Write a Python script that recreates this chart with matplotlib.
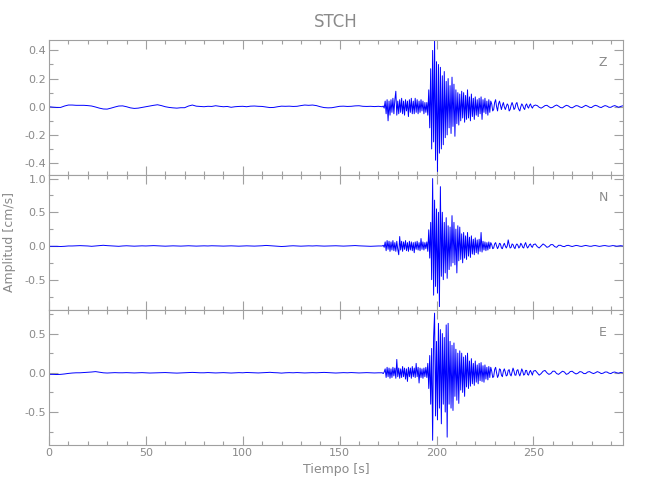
import numpy as np
import matplotlib
matplotlib.use('Agg')
import matplotlib.pyplot as plt
from matplotlib.ticker import MultipleLocator, FormatStrFormatter

# --- sampling grid (s) ---
t_pre = np.arange(0, 172, 2.0)      # quiet part
t_main = np.arange(172, 250, 0.5)   # arrival + coda
t_tail = np.arange(250, 297, 1.0)   # late coda

# --- Z component (cm/s) ---
z_pre = [0.0, -0.003, -0.005, -0.005, 0.005, 0.012, 0.012, 0.010, 0.010, 0.010,
         0.008, 0.005, -0.002, -0.010, -0.016, -0.017, -0.010, -0.002, 0.005, 0.006,
         0.0, -0.008, -0.012, -0.010, -0.005, 0.0, 0.005, 0.010, 0.014, 0.008,
         0.0, -0.005, -0.008, -0.010, -0.007, -0.007, 0.005, 0.012, 0.004, 0.002,
         0.0, 0.003, 0.002, 0.007, 0.003, 0.0, 0.002, -0.004, 0.0, 0.002,
         0.003, 0.0, 0.004, 0.005, 0.003, 0.002, -0.002, -0.006, -0.005, 0.0,
         0.004, 0.003, 0.004, 0.002, 0.003, 0.008, 0.012, 0.010, 0.012, 0.008,
         0.0, -0.006, -0.008, -0.007, -0.002, 0.003, 0.004, 0.002, 0.003, 0.006,
         0.007, 0.003, 0.002, 0.003, 0.001, 0.003]
z_main = [0.0, 0.005, -0.01, 0.04, -0.05, 0.05, -0.10, 0.04, -0.06, 0.05,
          -0.04, 0.06, -0.05, 0.05, 0.11, -0.06, 0.04, -0.05, 0.05, -0.04,
          0.06, -0.05, 0.04, -0.06, 0.05, -0.03, 0.04, -0.07, 0.05, -0.04,
          0.06, -0.05, 0.04, -0.05, 0.06, -0.04, 0.05, -0.05, 0.04, -0.04,
          0.05, -0.03, 0.04, -0.05, 0.03, -0.04, 0.03, -0.06, 0.12, -0.15,
          0.27, -0.30, 0.40, -0.25, 0.47, -0.38, 0.32, -0.46, 0.30, -0.33,
          0.28, -0.30, 0.22, -0.27, 0.25, -0.22, 0.18, -0.20, 0.20, -0.15,
          0.15, -0.19, 0.21, -0.14, 0.16, -0.21, 0.12, -0.12, 0.10, -0.13,
          0.09, -0.10, 0.11, -0.08, 0.10, -0.11, 0.08, -0.09, 0.12, -0.08,
          0.07, -0.10, 0.09, -0.07, 0.06, -0.09, 0.07, -0.06, 0.05, -0.07,
          0.06, -0.05, 0.07, -0.09, 0.05, -0.04, 0.06, -0.05, 0.04, -0.06,
          0.05, -0.04, 0.04, 0.02, -0.03, -0.02, 0.03, 0.05, 0.0, -0.03,
          0.02, 0.04, 0.01, -0.02, 0.01, 0.03, 0.0, -0.02, 0.0, 0.02,
          0.01, -0.03, -0.02, 0.01, 0.03, 0.01, -0.02, -0.01, 0.02, 0.03,
          0.0, -0.02, -0.03, 0.0, 0.02, 0.01, -0.01, -0.02, 0.01, 0.02,
          0.0, -0.01, 0.01, 0.02, 0.0, -0.01]
z_tail = [0.005, 0.012, 0.008, -0.004, -0.010, -0.002, 0.008, 0.010, 0.0, -0.008,
          -0.004, 0.006, 0.012, 0.004, -0.006, -0.008, 0.002, 0.010, 0.006, -0.004,
          -0.008, 0.0, 0.008, 0.006, -0.002, -0.006, 0.002, 0.010, 0.004, -0.004,
          -0.006, 0.004, 0.010, 0.006, -0.002, -0.006, 0.002, 0.008, 0.004, -0.004,
          -0.004, 0.004, 0.008, 0.002, -0.004, 0.002, 0.006]

# --- N component ---
n_pre = [-0.005, -0.005, -0.005, -0.008, -0.005, 0.0, 0.0, 0.003, 0.005, 0.003,
         0.0, -0.005, 0.0, 0.005, 0.010, 0.005, 0.002, 0.0, -0.005, 0.0,
         0.003, 0.0, -0.003, 0.0, 0.002, 0.0, 0.003, 0.005, 0.002, 0.0,
         -0.003, 0.0, 0.002, 0.0, -0.002, 0.0, 0.003, 0.0, -0.002, 0.0,
         0.002, 0.0, 0.003, 0.002, 0.0, -0.002, 0.0, 0.002, 0.0, -0.003,
         0.0, 0.002, 0.0, -0.002, 0.0, 0.003, 0.008, 0.004, 0.0, -0.005,
         -0.008, -0.005, 0.0, 0.003, 0.0, -0.003, 0.0, 0.002, 0.0, 0.003,
         0.0, -0.002, 0.0, 0.002, 0.003, 0.0, -0.002, 0.0, 0.003, 0.006,
         0.002, 0.0, -0.003, -0.005, -0.002, 0.0]
n_main = [0.0, 0.01, -0.02, 0.06, -0.07, 0.08, -0.05, 0.07, -0.08, 0.06,
          -0.06, 0.08, -0.07, 0.05, -0.08, 0.07, -0.05, -0.13, 0.14, -0.06,
          0.07, -0.08, 0.06, -0.05, 0.08, -0.07, 0.05, -0.08, 0.07, -0.06,
          0.06, -0.07, 0.05, -0.10, 0.06, -0.05, 0.07, -0.06, 0.05, -0.07,
          0.11, -0.05, 0.06, -0.06, 0.05, -0.04, 0.06, -0.08, 0.24, -0.18,
          0.35, -0.50, 1.00, -0.73, 0.68, -0.60, 0.55, -0.70, 0.50, -0.90,
          0.88, -0.45, 0.50, -0.50, 0.35, -0.40, 0.42, -0.48, 0.30, -0.35,
          0.28, -0.30, 0.45, -0.25, 0.35, -0.28, 0.25, -0.40, 0.30, -0.22,
          0.28, -0.20, 0.18, -0.25, 0.20, -0.18, 0.15, -0.20, 0.20, -0.15,
          0.13, -0.17, 0.15, -0.12, 0.10, -0.13, 0.12, -0.10, 0.09, -0.12,
          0.10, -0.08, 0.20, -0.09, 0.07, -0.06, 0.06, -0.07, 0.05, -0.06,
          0.06, -0.04, 0.05, 0.02, -0.04, -0.03, 0.03, 0.05, 0.0, -0.04,
          -0.01, 0.04, 0.03, -0.03, -0.04, 0.01, 0.04, 0.0, -0.03, 0.0,
          0.09, 0.02, -0.03, -0.02, 0.03, 0.02, -0.02, -0.04, 0.01, 0.03,
          0.01, -0.03, -0.01, 0.04, 0.02, -0.02, -0.03, 0.02, 0.05, 0.0,
          -0.03, -0.01, 0.02, 0.03, -0.01, -0.02]
n_tail = [0.02, 0.03, -0.01, -0.03, 0.0, 0.03, 0.01, -0.02, -0.01, 0.02,
          0.02, -0.01, -0.02, 0.01, 0.01, -0.005, -0.01, 0.005, 0.01, 0.0,
          -0.008, 0.0, 0.008, 0.004, -0.004, -0.006, 0.002, 0.008, 0.002, -0.004,
          -0.004, 0.004, 0.006, 0.0, -0.006, -0.002, 0.004, 0.006, 0.0, -0.004,
          0.0, 0.006, 0.002, -0.004, 0.0, 0.004, 0.0]

# --- E component ---
e_pre = [-0.02, -0.02, -0.022, -0.02, -0.015, -0.008, -0.003, 0.0, 0.0, 0.003,
         0.005, 0.010, 0.015, 0.008, 0.0, -0.003, 0.0, 0.002, 0.0, 0.0,
         0.002, 0.0, -0.002, 0.0, 0.002, 0.0, -0.003, -0.002, 0.0, 0.002,
         0.003, 0.0, -0.002, -0.004, -0.002, 0.0, 0.002, 0.005, 0.002, 0.0,
         0.0, 0.003, 0.0, -0.002, 0.0, 0.002, 0.0, -0.003, 0.0, 0.002,
         0.0, 0.004, 0.002, 0.0, -0.002, 0.0, 0.003, 0.006, 0.002, 0.0,
         -0.004, 0.0, 0.002, 0.0, 0.003, 0.0, -0.002, 0.0, 0.002, 0.0,
         0.003, 0.005, 0.002, 0.0, -0.003, 0.0, 0.002, 0.0, 0.003, 0.0,
         -0.002, 0.0, 0.002, 0.0, -0.002, 0.0]
e_main = [0.0, -0.01, 0.01, 0.05, -0.06, 0.07, -0.05, 0.06, -0.07, 0.05,
          -0.06, 0.07, -0.04, 0.06, -0.07, 0.17, -0.05, 0.06, -0.07, 0.05,
          -0.06, 0.08, -0.05, 0.06, -0.08, 0.05, -0.11, 0.07, -0.05, 0.06,
          -0.07, 0.08, -0.05, 0.06, -0.06, 0.12, -0.05, 0.07, -0.13, 0.06,
          -0.06, 0.05, -0.07, 0.06, -0.05, 0.07, -0.06, 0.12, -0.20, 0.22,
          -0.40, 0.31, -0.86, 0.45, 0.76, -0.55, 0.40, -0.60, 0.63, -0.45,
          0.55, -0.65, 0.50, -0.40, 0.45, -0.50, 0.61, -0.82, 0.63, -0.40,
          0.40, -0.45, 0.35, -0.48, 0.38, -0.30, 0.30, -0.35, 0.25, -0.39,
          0.28, -0.22, 0.25, -0.25, 0.20, -0.30, 0.22, -0.18, 0.25, -0.20,
          0.15, -0.17, 0.18, -0.14, 0.12, -0.16, 0.15, -0.12, 0.10, -0.14,
          0.12, -0.10, 0.13, -0.11, 0.09, -0.12, 0.10, -0.08, 0.07, -0.09,
          0.08, -0.06, 0.07, 0.02, -0.06, -0.05, 0.04, 0.07, 0.0, -0.06,
          -0.03, 0.05, 0.04, -0.03, -0.05, 0.02, 0.05, 0.01, -0.04, -0.03,
          0.03, 0.04, -0.02, -0.04, 0.01, 0.06, 0.02, -0.03, -0.03, 0.03,
          0.04, -0.01, -0.04, 0.0, 0.05, 0.02, -0.03, -0.02, 0.03, 0.03,
          -0.02, -0.03, 0.01, 0.03, 0.0, -0.03]
e_tail = [0.02, 0.03, 0.0, -0.03, -0.01, 0.02, 0.03, 0.0, -0.02, -0.01,
          0.02, 0.02, -0.01, -0.02, 0.0, 0.02, 0.01, -0.02, -0.01, 0.015,
          0.02, 0.0, -0.015, -0.005, 0.015, 0.01, -0.01, -0.01, 0.01, 0.015,
          0.0, -0.01, 0.0, 0.015, 0.005, -0.01, -0.005, 0.01, 0.01, -0.005,
          -0.01, 0.005, 0.01, 0.0, -0.005, 0.005, 0.0]

components = ['Z', 'N', 'E']
ylims = [(-0.485, 0.474), (-0.95, 1.053), (-0.92, 0.80)]
ymajor = [0.2, 0.5, 0.5]
yminor = [0.1, 0.25, 0.25]

t = np.concatenate([t_pre, t_main, t_tail])
traces = [np.concatenate([z_pre, z_main, z_tail]),
          np.concatenate([n_pre, n_main, n_tail]),
          np.concatenate([e_pre, e_main, e_tail])]

#---Plot---
plt.rcParams['font.family'] = ['Liberation Sans Narrow', 'DejaVu Sans']
plt.rcParams['axes.unicode_minus'] = False
GRAY = '#8a8a8a'
LINE = '#a0a0a0'

fig = plt.figure(figsize=(6.5, 5), dpi=100)
bottoms = [0.65, 0.38, 0.11]
for k in range(3):
    ax = fig.add_axes([0.0754, bottoms[k], 0.8835, 0.27])
    ax.plot(t, traces[k], color='#0000ff', lw=0.7)
    ax.set_xlim(0, 296.4)
    ax.set_ylim(*ylims[k])
    ax.xaxis.set_major_locator(MultipleLocator(50))
    ax.xaxis.set_minor_locator(MultipleLocator(10))
    ax.yaxis.set_major_locator(MultipleLocator(ymajor[k]))
    ax.yaxis.set_minor_locator(MultipleLocator(yminor[k]))
    ax.yaxis.set_major_formatter(FormatStrFormatter('%.1f'))
    ax.tick_params(which='both', direction='in', top=True, right=True,
                   color=LINE, labelcolor=GRAY, labelsize=8, width=0.8, pad=2)
    ax.tick_params(which='major', length=6.5)
    ax.tick_params(which='minor', length=3.2)
    for s in ax.spines.values():
        s.set_color(LINE)
        s.set_linewidth(0.8)
    if k < 2:
        ax.tick_params(labelbottom=False)
    ax.text(0.965, 0.83, components[k], transform=ax.transAxes,
            color=GRAY, fontsize=9, ha='center', va='center')
    if k == 1:
        ax.set_ylabel('Amplitud [cm/s]', color=GRAY, fontsize=9, labelpad=6)
    if k == 2:
        ax.set_xlabel('Tiempo [s]', color=GRAY, fontsize=9, labelpad=4)

fig.text(0.517, 0.956, 'STCH', color=GRAY, fontsize=12, ha='center', va='center')

plt.savefig('out.png', dpi=100)
